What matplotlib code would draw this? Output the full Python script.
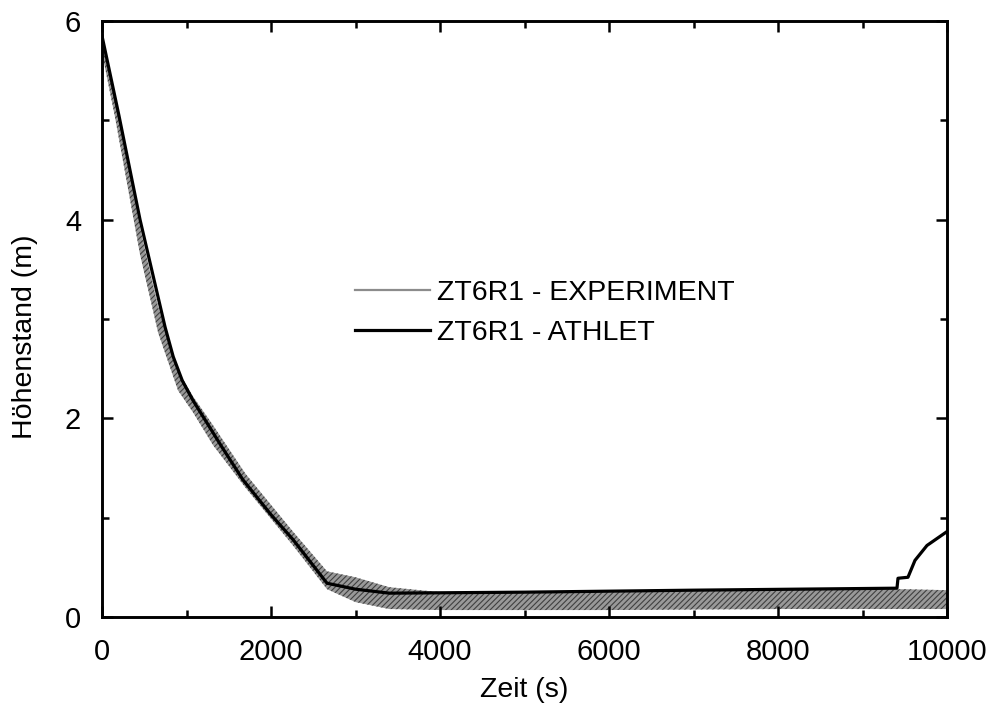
import matplotlib
matplotlib.use("Agg")
from matplotlib import pyplot as plt
from matplotlib.ticker import MultipleLocator

# ATHLET-Rechnung
zeit_athlet = [0, 200, 450, 746, 843, 950, 1077, 1420, 1669, 2000, 2260, 2663, 3000,
               3400, 5000, 7000, 9408, 9420, 9538, 9621, 9763, 10000]
hoehe_athlet = [5.85, 5.05, 4.0, 2.92, 2.62, 2.38, 2.18, 1.71, 1.38, 1.03, 0.78, 0.34, 0.28,
                0.24, 0.25, 0.27, 0.29, 0.39, 0.40, 0.57, 0.72, 0.86]

# Experiment (Streuband: untere / obere Grenze)
zeit_exp = [0, 150, 450, 665, 900, 1077, 1314, 1700, 2260, 2663, 3000, 3400, 4000,
            6000, 8000, 9500, 10000]
exp_unten = [5.68, 5.05, 3.65, 2.86, 2.28, 2.06, 1.73, 1.30, 0.72, 0.28, 0.15, 0.08, 0.07,
             0.07, 0.08, 0.08, 0.08]
exp_oben = [5.80, 5.25, 3.92, 3.12, 2.48, 2.22, 1.93, 1.44, 0.86, 0.46, 0.40, 0.30, 0.25,
            0.25, 0.27, 0.28, 0.27]

plt.rcParams['font.family'] = ['Liberation Sans', 'DejaVu Sans']
plt.rcParams['hatch.linewidth'] = 0.8

fig = plt.figure(figsize=(9.97, 7.08), dpi=100)
ax = fig.add_axes([102 / 997, 91 / 708, 845 / 997, 596 / 708])

ax.fill_between(zeit_exp, exp_unten, exp_oben, facecolor='0.6', edgecolor='0.25',
                hatch='//////', lw=0)
ax.plot(zeit_athlet, hoehe_athlet, color='black', lw=2.3, solid_joinstyle='round')

# Legende
l1, = ax.plot([], [], color='0.55', lw=1.6, label='ZT6R1 - EXPERIMENT')
l2, = ax.plot([], [], color='black', lw=2.3, label='ZT6R1 - ATHLET')
ax.legend(handles=[l1, l2], loc='upper left', bbox_to_anchor=(0.2994, 0.566),
          frameon=False, fontsize=20.5, handlelength=2.63, handletextpad=0.25,
          borderpad=0, borderaxespad=0, labelspacing=0.5)

ax.set_xlim(0, 10000)
ax.set_ylim(0, 6)
ax.xaxis.set_major_locator(MultipleLocator(2000))
ax.xaxis.set_minor_locator(MultipleLocator(1000))
ax.yaxis.set_major_locator(MultipleLocator(2))
ax.yaxis.set_minor_locator(MultipleLocator(1))
ax.tick_params(which='both', direction='in', top=True, right=True, width=1.8)
ax.tick_params(which='major', length=8, labelsize=21, pad=15)
ax.tick_params(which='minor', length=5)
for s in ax.spines.values():
    s.set_linewidth(2.1)

ax.set_xlabel("Zeit (s)", fontsize=20.5)
ax.set_ylabel("Höhenstand (m)", fontsize=20.5)
ax.xaxis.set_label_coords(0.5, -0.1)
ax.yaxis.set_label_coords(-0.076, 0.47)

plt.savefig("out.png", dpi=100)
